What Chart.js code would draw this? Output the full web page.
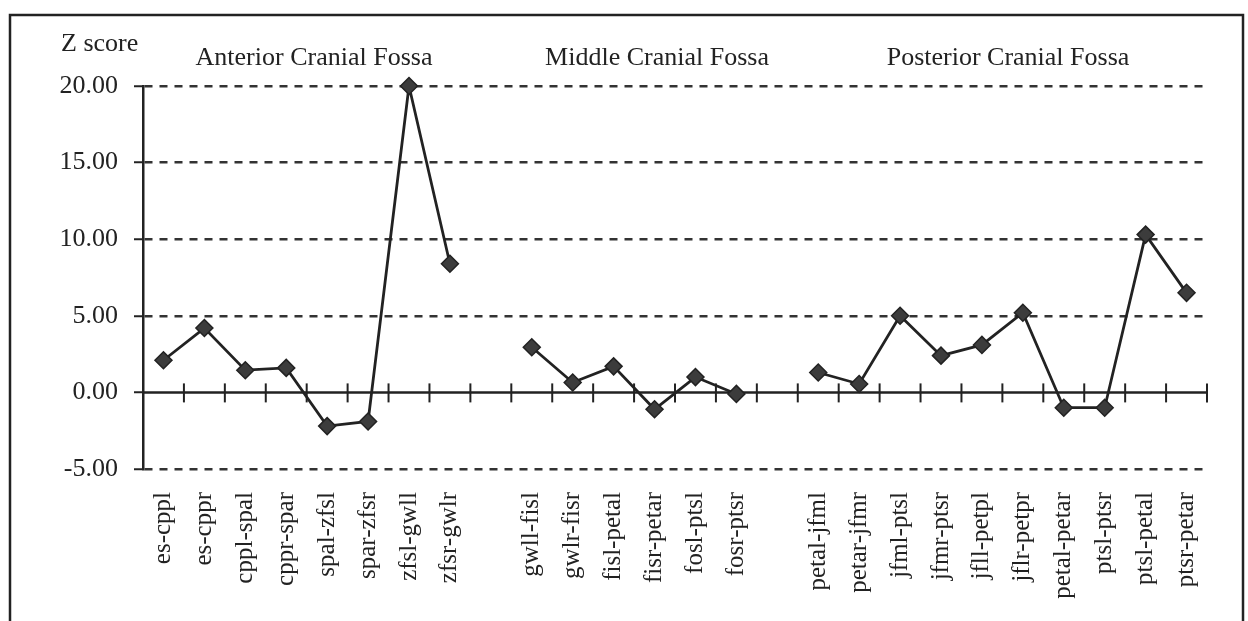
<!DOCTYPE html>
<html>
<head>
<meta charset="utf-8">
<script src="https://cdn.jsdelivr.net/npm/chart.js@4.4.1/dist/chart.umd.min.js"></script>
<style>
  html, body { margin: 0; padding: 0; background: #ffffff; }
  #wrap { width: 1248px; height: 621px; position: relative; }
  canvas { display: block; }
</style>
</head>
<body>
<div id="wrap"><canvas id="chart" width="1248" height="621"></canvas></div>
<script>
// Landmark-pair distances, three fossae; empty slots separate the groups
const pairs = [
  'es-cppl', 'es-cppr', 'cppl-spal', 'cppr-spar', 'spal-zfsl', 'spar-zfsr', 'zfsl-gwll', 'zfsr-gwlr',
  '',
  'gwll-fisl', 'gwlr-fisr', 'fisl-petal', 'fisr-petar', 'fosl-ptsl', 'fosr-ptsr',
  '',
  'petal-jfml', 'petar-jfmr', 'jfml-ptsl', 'jfmr-ptsr', 'jfll-petpl', 'jflr-petpr',
  'petal-petar', 'ptsl-ptsr', 'ptsl-petal', 'ptsr-petar'
];
const zScores = [
  2.1, 4.2, 1.45, 1.6, -2.2, -1.9, 20.0, 8.4,
  null,
  2.95, 0.65, 1.7, -1.1, 1.0, -0.1,
  null,
  1.3, 0.55, 5.0, 2.4, 3.1, 5.2, -1.0, -1.0, 10.3, 6.5
];
const yTicks = [-5, 0, 5, 10, 15, 20];
const groupTitles = ['Anterior Cranial Fossa', 'Middle Cranial Fossa', 'Posterior Cranial Fossa'];
const axisTitle = 'Z score';

const SERIF = "'Liberation Serif', 'Times New Roman', serif";
const INK = '#222222';

// White page, outer frame, group headings
const framePlugin = {
  id: 'frame',
  beforeDraw(chart) {
    const ctx = chart.ctx;
    ctx.save();
    ctx.fillStyle = '#ffffff';
    ctx.fillRect(0, 0, chart.width, chart.height);
    ctx.strokeStyle = INK;
    ctx.lineWidth = 2.5;
    ctx.strokeRect(10, 15, 1233, 700);
    ctx.fillStyle = INK;
    ctx.font = '26px ' + SERIF;
    ctx.textBaseline = 'alphabetic';
    ctx.textAlign = 'left';
    ctx.fillText(axisTitle, 61, 51);
    ctx.textAlign = 'center';
    const centers = [314, 657, 1008];
    groupTitles.forEach((t, i) => ctx.fillText(t, centers[i], 65));
    ctx.restore();
  }
};

// Solid zero line with tick marks crossing it at every category boundary
const zeroAxisPlugin = {
  id: 'zeroAxis',
  beforeDatasetsDraw(chart) {
    const { ctx, chartArea, scales } = chart;
    const x = scales.x, y = scales.y;
    const y0 = y.getPixelForValue(0);
    ctx.save();
    ctx.strokeStyle = INK;
    ctx.lineWidth = 2.5;
    ctx.beginPath();
    ctx.moveTo(chartArea.left, y0);
    ctx.lineTo(chartArea.right, y0);
    ctx.stroke();
    ctx.lineWidth = 2;
    const n = pairs.length;
    for (let i = 1; i <= n; i++) {
      const bx = i < n
        ? (x.getPixelForValue(i - 1) + x.getPixelForValue(i)) / 2
        : chartArea.right;
      ctx.beginPath();
      ctx.moveTo(bx, y0 - 9);
      ctx.lineTo(bx, y0 + 10);
      ctx.stroke();
    }
    ctx.restore();
  }
};

new Chart(document.getElementById('chart'), {
  type: 'line',
  data: {
    labels: pairs,
    datasets: [{
      data: zScores,
      borderColor: INK,
      borderWidth: 2.8,
      pointStyle: 'rectRot',
      pointRadius: 8.5,
      pointHoverRadius: 8.5,
      pointBackgroundColor: '#3c3c3c',
      pointBorderColor: INK,
      pointBorderWidth: 1.5,
      spanGaps: false,
      tension: 0,
      clip: false
    }]
  },
  options: {
    responsive: false,
    animation: false,
    events: [],
    layout: { padding: { left: 0, top: 86, right: 41, bottom: 0 } },
    plugins: {
      legend: { display: false },
      tooltip: { enabled: false },
      title: { display: false }
    },
    scales: {
      x: {
        type: 'category',
        offset: true,
        grid: { display: false, offset: true },
        border: { display: false },
        ticks: {
          autoSkip: false,
          minRotation: 90,
          maxRotation: 90,
          padding: 15,
          color: INK,
          font: { family: SERIF, size: 25 }
        },
        afterFit(scale) { scale.height = 152; }
      },
      y: {
        min: yTicks[0],
        max: yTicks[yTicks.length - 1],
        afterBuildTicks(scale) { scale.ticks = yTicks.map(v => ({ value: v })); },
        grid: {
          color: ctx => (ctx.tick && ctx.tick.value === 0) ? 'rgba(0,0,0,0)' : '#333333',
          lineWidth: 2.5,
          tickColor: INK,
          tickLength: 9,
          tickWidth: 2
        },
        border: { display: true, color: INK, width: 2.5, dash: [8, 7] },
        ticks: {
          padding: 16,
          color: INK,
          font: { family: SERIF, size: 26 },
          callback: v => Number(v).toFixed(2)
        },
        afterFit(scale) { scale.width = 143; }
      }
    }
  },
  plugins: [framePlugin, zeroAxisPlugin]
});
</script>
</body>
</html>
